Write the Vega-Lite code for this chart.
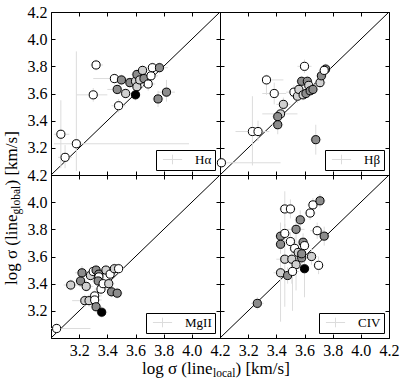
{
"$schema":"https://vega.github.io/schema/vega-lite/v6.json",
"padding":{"left":1,"top":3,"right":5,"bottom":5},
"datasets":{
"diag":[{"x":3.0,"y":3.0},{"x":4.2,"y":4.2}],
"pts":[
{"line":"Hα","x":3.32,"y":3.81,"x0":3.28,"x1":3.37,"y0":3.77,"y1":3.85,"c":"w"},
{"line":"Hα","x":3.30,"y":3.59,"x0":3.18,"x1":3.40,"y0":3.54,"y1":3.64,"c":"w"},
{"line":"Hα","x":3.07,"y":3.30,"x0":3.02,"x1":3.13,"y0":3.05,"y1":3.55,"c":"w"},
{"line":"Hα","x":3.10,"y":3.13,"x0":3.05,"x1":3.15,"y0":3.05,"y1":3.22,"c":"w"},
{"line":"Hα","x":3.18,"y":3.23,"x0":3.02,"x1":3.98,"y0":3.03,"y1":3.91,"c":"w"},
{"line":"Hα","x":3.48,"y":3.51,"x0":3.43,"x1":3.53,"y0":3.46,"y1":3.56,"c":"w"},
{"line":"Hα","x":3.45,"y":3.71,"x0":3.30,"x1":3.62,"y0":3.67,"y1":3.75,"c":"w"},
{"line":"Hα","x":3.50,"y":3.70,"x0":3.45,"x1":3.55,"y0":3.66,"y1":3.74,"c":"m"},
{"line":"Hα","x":3.47,"y":3.63,"x0":3.40,"x1":3.55,"y0":3.59,"y1":3.67,"c":"m"},
{"line":"Hα","x":3.53,"y":3.60,"x0":3.48,"x1":3.58,"y0":3.56,"y1":3.64,"c":"l"},
{"line":"Hα","x":3.56,"y":3.68,"x0":3.52,"x1":3.60,"y0":3.64,"y1":3.72,"c":"m"},
{"line":"Hα","x":3.60,"y":3.69,"x0":3.56,"x1":3.65,"y0":3.65,"y1":3.73,"c":"l"},
{"line":"Hα","x":3.61,"y":3.74,"x0":3.57,"x1":3.66,"y0":3.70,"y1":3.78,"c":"m"},
{"line":"Hα","x":3.61,"y":3.65,"x0":3.57,"x1":3.66,"y0":3.61,"y1":3.69,"c":"l"},
{"line":"Hα","x":3.63,"y":3.70,"x0":3.58,"x1":3.68,"y0":3.66,"y1":3.74,"c":"l"},
{"line":"Hα","x":3.65,"y":3.77,"x0":3.61,"x1":3.70,"y0":3.73,"y1":3.81,"c":"l"},
{"line":"Hα","x":3.66,"y":3.71,"x0":3.62,"x1":3.70,"y0":3.67,"y1":3.75,"c":"m"},
{"line":"Hα","x":3.69,"y":3.67,"x0":3.64,"x1":3.74,"y0":3.62,"y1":3.72,"c":"w"},
{"line":"Hα","x":3.71,"y":3.73,"x0":3.66,"x1":3.76,"y0":3.69,"y1":3.77,"c":"w"},
{"line":"Hα","x":3.72,"y":3.79,"x0":3.66,"x1":3.78,"y0":3.75,"y1":3.83,"c":"w"},
{"line":"Hα","x":3.77,"y":3.79,"x0":3.72,"x1":3.83,"y0":3.75,"y1":3.83,"c":"m"},
{"line":"Hα","x":3.76,"y":3.56,"x0":3.72,"x1":3.80,"y0":3.50,"y1":3.62,"c":"m"},
{"line":"Hα","x":3.82,"y":3.61,"x0":3.76,"x1":3.88,"y0":3.54,"y1":3.70,"c":"m"},
{"line":"Hα","x":3.60,"y":3.59,"x0":3.56,"x1":3.64,"y0":3.55,"y1":3.63,"c":"k"},
{"line":"Hβ","x":3.01,"y":3.09,"x0":3.0,"x1":3.43,"y0":3.05,"y1":3.13,"c":"w"},
{"line":"Hβ","x":3.23,"y":3.32,"x0":3.11,"x1":3.35,"y0":3.07,"y1":3.58,"c":"w"},
{"line":"Hβ","x":3.27,"y":3.32,"x0":3.20,"x1":3.34,"y0":3.25,"y1":3.40,"c":"w"},
{"line":"Hβ","x":3.33,"y":3.70,"x0":3.30,"x1":3.45,"y0":3.59,"y1":3.74,"c":"w"},
{"line":"Hβ","x":3.385,"y":3.60,"x0":3.30,"x1":3.47,"y0":3.52,"y1":3.68,"c":"w"},
{"line":"Hβ","x":3.45,"y":3.52,"x0":3.40,"x1":3.50,"y0":3.47,"y1":3.57,"c":"l"},
{"line":"Hβ","x":3.43,"y":3.45,"x0":3.30,"x1":3.55,"y0":3.40,"y1":3.50,"c":"l"},
{"line":"Hβ","x":3.41,"y":3.43,"x0":3.37,"x1":3.45,"y0":3.38,"y1":3.48,"c":"m"},
{"line":"Hβ","x":3.41,"y":3.37,"x0":3.37,"x1":3.45,"y0":3.30,"y1":3.44,"c":"m"},
{"line":"Hβ","x":3.60,"y":3.80,"x0":3.55,"x1":3.65,"y0":3.75,"y1":3.85,"c":"w"},
{"line":"Hβ","x":3.525,"y":3.61,"x0":3.47,"x1":3.58,"y0":3.56,"y1":3.66,"c":"w"},
{"line":"Hβ","x":3.55,"y":3.58,"x0":3.50,"x1":3.60,"y0":3.53,"y1":3.63,"c":"l"},
{"line":"Hβ","x":3.56,"y":3.63,"x0":3.50,"x1":3.62,"y0":3.58,"y1":3.68,"c":"l"},
{"line":"Hβ","x":3.58,"y":3.69,"x0":3.54,"x1":3.62,"y0":3.65,"y1":3.73,"c":"m"},
{"line":"Hβ","x":3.62,"y":3.69,"x0":3.58,"x1":3.66,"y0":3.65,"y1":3.73,"c":"m"},
{"line":"Hβ","x":3.63,"y":3.66,"x0":3.59,"x1":3.67,"y0":3.62,"y1":3.70,"c":"l"},
{"line":"Hβ","x":3.59,"y":3.59,"x0":3.55,"x1":3.63,"y0":3.55,"y1":3.63,"c":"l"},
{"line":"Hβ","x":3.61,"y":3.60,"x0":3.57,"x1":3.65,"y0":3.56,"y1":3.64,"c":"m"},
{"line":"Hβ","x":3.64,"y":3.62,"x0":3.60,"x1":3.68,"y0":3.58,"y1":3.66,"c":"m"},
{"line":"Hβ","x":3.66,"y":3.63,"x0":3.62,"x1":3.70,"y0":3.59,"y1":3.67,"c":"m"},
{"line":"Hβ","x":3.71,"y":3.68,"x0":3.67,"x1":3.75,"y0":3.64,"y1":3.72,"c":"l"},
{"line":"Hβ","x":3.72,"y":3.73,"x0":3.68,"x1":3.76,"y0":3.69,"y1":3.77,"c":"m"},
{"line":"Hβ","x":3.75,"y":3.78,"x0":3.71,"x1":3.79,"y0":3.74,"y1":3.82,"c":"m"},
{"line":"Hβ","x":3.74,"y":3.77,"x0":3.70,"x1":3.78,"y0":3.73,"y1":3.81,"c":"w"},
{"line":"Hβ","x":3.68,"y":3.26,"x0":3.64,"x1":3.72,"y0":3.15,"y1":3.37,"c":"m"},
{"line":"MgII","x":3.04,"y":3.07,"x0":3.0,"x1":3.28,"y0":3.03,"y1":3.11,"c":"w"},
{"line":"MgII","x":3.14,"y":3.39,"x0":3.09,"x1":3.24,"y0":3.35,"y1":3.43,"c":"l"},
{"line":"MgII","x":3.21,"y":3.42,"x0":3.17,"x1":3.25,"y0":3.38,"y1":3.46,"c":"m"},
{"line":"MgII","x":3.22,"y":3.48,"x0":3.17,"x1":3.27,"y0":3.44,"y1":3.53,"c":"m"},
{"line":"MgII","x":3.25,"y":3.38,"x0":3.20,"x1":3.30,"y0":3.34,"y1":3.42,"c":"l"},
{"line":"MgII","x":3.24,"y":3.275,"x0":3.15,"x1":3.30,"y0":3.23,"y1":3.32,"c":"l"},
{"line":"MgII","x":3.27,"y":3.275,"x0":3.22,"x1":3.32,"y0":3.23,"y1":3.32,"c":"l"},
{"line":"MgII","x":3.28,"y":3.46,"x0":3.23,"x1":3.33,"y0":3.42,"y1":3.50,"c":"l"},
{"line":"MgII","x":3.30,"y":3.49,"x0":3.25,"x1":3.35,"y0":3.45,"y1":3.53,"c":"w"},
{"line":"MgII","x":3.31,"y":3.31,"x0":3.26,"x1":3.36,"y0":3.27,"y1":3.35,"c":"w"},
{"line":"MgII","x":3.31,"y":3.28,"x0":3.26,"x1":3.36,"y0":3.24,"y1":3.32,"c":"w"},
{"line":"MgII","x":3.32,"y":3.50,"x0":3.28,"x1":3.36,"y0":3.46,"y1":3.54,"c":"m"},
{"line":"MgII","x":3.34,"y":3.47,"x0":3.30,"x1":3.38,"y0":3.43,"y1":3.51,"c":"m"},
{"line":"MgII","x":3.34,"y":3.45,"x0":3.30,"x1":3.38,"y0":3.41,"y1":3.49,"c":"w"},
{"line":"MgII","x":3.335,"y":3.42,"x0":3.29,"x1":3.38,"y0":3.38,"y1":3.46,"c":"m"},
{"line":"MgII","x":3.355,"y":3.36,"x0":3.31,"x1":3.40,"y0":3.32,"y1":3.40,"c":"w"},
{"line":"MgII","x":3.37,"y":3.40,"x0":3.32,"x1":3.42,"y0":3.36,"y1":3.44,"c":"w"},
{"line":"MgII","x":3.39,"y":3.50,"x0":3.35,"x1":3.43,"y0":3.46,"y1":3.54,"c":"l"},
{"line":"MgII","x":3.41,"y":3.40,"x0":3.37,"x1":3.45,"y0":3.36,"y1":3.44,"c":"l"},
{"line":"MgII","x":3.42,"y":3.47,"x0":3.38,"x1":3.46,"y0":3.43,"y1":3.51,"c":"w"},
{"line":"MgII","x":3.45,"y":3.51,"x0":3.41,"x1":3.49,"y0":3.47,"y1":3.55,"c":"l"},
{"line":"MgII","x":3.48,"y":3.51,"x0":3.44,"x1":3.52,"y0":3.47,"y1":3.55,"c":"w"},
{"line":"MgII","x":3.43,"y":3.34,"x0":3.39,"x1":3.47,"y0":3.30,"y1":3.38,"c":"m"},
{"line":"MgII","x":3.47,"y":3.33,"x0":3.43,"x1":3.51,"y0":3.29,"y1":3.37,"c":"m"},
{"line":"MgII","x":3.32,"y":3.23,"x0":3.28,"x1":3.36,"y0":3.19,"y1":3.27,"c":"m"},
{"line":"MgII","x":3.36,"y":3.19,"x0":3.32,"x1":3.40,"y0":3.15,"y1":3.23,"c":"k"},
{"line":"CIV","x":3.265,"y":3.255,"x0":3.22,"x1":3.31,"y0":3.21,"y1":3.30,"c":"m"},
{"line":"CIV","x":3.46,"y":3.95,"x0":3.42,"x1":3.50,"y0":3.82,"y1":4.08,"c":"w"},
{"line":"CIV","x":3.50,"y":3.95,"x0":3.46,"x1":3.54,"y0":3.88,"y1":4.02,"c":"w"},
{"line":"CIV","x":3.66,"y":3.98,"x0":3.62,"x1":3.70,"y0":3.93,"y1":4.03,"c":"w"},
{"line":"CIV","x":3.64,"y":3.92,"x0":3.60,"x1":3.68,"y0":3.87,"y1":3.97,"c":"w"},
{"line":"CIV","x":3.71,"y":4.01,"x0":3.67,"x1":3.75,"y0":3.96,"y1":4.06,"c":"m"},
{"line":"CIV","x":3.57,"y":3.87,"x0":3.53,"x1":3.61,"y0":3.80,"y1":3.94,"c":"m"},
{"line":"CIV","x":3.54,"y":3.80,"x0":3.48,"x1":3.60,"y0":3.70,"y1":3.90,"c":"m"},
{"line":"CIV","x":3.43,"y":3.75,"x0":3.39,"x1":3.47,"y0":3.65,"y1":3.85,"c":"m"},
{"line":"CIV","x":3.46,"y":3.77,"x0":3.42,"x1":3.50,"y0":3.70,"y1":3.84,"c":"w"},
{"line":"CIV","x":3.43,"y":3.69,"x0":3.39,"x1":3.47,"y0":3.62,"y1":3.76,"c":"m"},
{"line":"CIV","x":3.50,"y":3.71,"x0":3.46,"x1":3.54,"y0":3.64,"y1":3.78,"c":"w"},
{"line":"CIV","x":3.53,"y":3.66,"x0":3.49,"x1":3.57,"y0":3.58,"y1":3.74,"c":"w"},
{"line":"CIV","x":3.59,"y":3.705,"x0":3.55,"x1":3.63,"y0":3.64,"y1":3.77,"c":"m"},
{"line":"CIV","x":3.60,"y":3.68,"x0":3.56,"x1":3.64,"y0":3.62,"y1":3.74,"c":"w"},
{"line":"CIV","x":3.69,"y":3.79,"x0":3.64,"x1":3.74,"y0":3.73,"y1":3.85,"c":"w"},
{"line":"CIV","x":3.74,"y":3.75,"x0":3.70,"x1":3.78,"y0":3.68,"y1":3.82,"c":"m"},
{"line":"CIV","x":3.46,"y":3.58,"x0":3.40,"x1":3.52,"y0":3.23,"y1":3.76,"c":"l"},
{"line":"CIV","x":3.51,"y":3.58,"x0":3.47,"x1":3.55,"y0":3.40,"y1":3.70,"c":"l"},
{"line":"CIV","x":3.555,"y":3.63,"x0":3.51,"x1":3.60,"y0":3.55,"y1":3.71,"c":"l"},
{"line":"CIV","x":3.58,"y":3.59,"x0":3.54,"x1":3.62,"y0":3.52,"y1":3.66,"c":"m"},
{"line":"CIV","x":3.58,"y":3.62,"x0":3.54,"x1":3.62,"y0":3.55,"y1":3.69,"c":"m"},
{"line":"CIV","x":3.65,"y":3.60,"x0":3.61,"x1":3.69,"y0":3.54,"y1":3.66,"c":"l"},
{"line":"CIV","x":3.54,"y":3.54,"x0":3.50,"x1":3.58,"y0":3.35,"y1":3.70,"c":"l"},
{"line":"CIV","x":3.70,"y":3.535,"x0":3.66,"x1":3.74,"y0":3.47,"y1":3.60,"c":"w"},
{"line":"CIV","x":3.43,"y":3.48,"x0":3.38,"x1":3.48,"y0":3.12,"y1":3.60,"c":"l"},
{"line":"CIV","x":3.48,"y":3.46,"x0":3.44,"x1":3.52,"y0":3.40,"y1":3.52,"c":"m"},
{"line":"CIV","x":3.515,"y":3.49,"x0":3.47,"x1":3.56,"y0":3.20,"y1":3.60,"c":"w"},
{"line":"CIV","x":3.60,"y":3.51,"x0":3.56,"x1":3.64,"y0":3.30,"y1":3.62,"c":"k"}
]},
"columns":2,
"spacing":0,
"bounds":"flush",
"resolve":{"scale":{"stroke":"independent"},"legend":{"stroke":"independent"}},
"concat":[
{"width":169,"height":163,
 "layer":[
  {"data":{"name":"diag"},"mark":{"type":"line","color":"black","strokeWidth":1,"clip":true},
   "encoding":{"x":{"field":"x","type":"quantitative","scale":{"domain":[3,4.2],"nice":false,"zero":false},"axis":{"orient":"top","values":[3,3.2,3.4,3.6,3.8,4,4.2],"labels":false,"title":null}},
               "y":{"field":"y","type":"quantitative","scale":{"domain":[3,4.2],"nice":false,"zero":false},"axis":{"orient":"right","values":[3,3.2,3.4,3.6,3.8,4,4.2],"labels":false,"title":null}}}},
  {"data":{"name":"pts"},"transform":[{"filter":"datum.line==='Hα'"}],"mark":{"type":"rule","strokeWidth":1},
   "encoding":{"x":{"field":"x0","type":"quantitative","axis":null},"x2":{"field":"x1"},"y":{"field":"y","type":"quantitative","axis":null},
               "stroke":{"field":"line","type":"nominal","scale":{"range":["#dcdcdc"]},"legend":{"title":null}}}},
  {"data":{"name":"pts"},"transform":[{"filter":"datum.line==='Hα'"}],"mark":{"type":"rule","strokeWidth":1},
   "encoding":{"x":{"field":"x","type":"quantitative","axis":null},"y":{"field":"y0","type":"quantitative","axis":null},"y2":{"field":"y1"},
               "stroke":{"field":"line","type":"nominal","scale":{"range":["#dcdcdc"]},"legend":{"title":null}}}},
  {"data":{"name":"pts"},"transform":[{"filter":"datum.line==='Hα'"}],"mark":{"type":"circle","size":66,"stroke":"black","strokeWidth":1,"opacity":1},
   "encoding":{"x":{"field":"x","type":"quantitative","axis":{"orient":"bottom","values":[3,3.2,3.4,3.6,3.8,4,4.2],"labels":false,"title":null}},
               "y":{"field":"y","type":"quantitative","axis":{"orient":"left","values":[3,3.2,3.4,3.6,3.8,4,4.2],"title":") [km/s]","titleAlign":"left","titleAngle":270,"titleBaseline":"alphabetic","titleX":-35,"titleY":173}},
               "fill":{"field":"c","type":"nominal","scale":{"domain":["w","l","m","k"],"range":["#ffffff","#d0d0d0","#8c8c8c","#000000"]},"legend":null}}}
 ],
 "resolve":{"axis":{"x":"independent","y":"independent"}}},
{"width":169,"height":163,
 "layer":[
  {"data":{"name":"diag"},"mark":{"type":"line","color":"black","strokeWidth":1,"clip":true},
   "encoding":{"x":{"field":"x","type":"quantitative","scale":{"domain":[3,4.2],"nice":false,"zero":false},"axis":{"orient":"top","values":[3,3.2,3.4,3.6,3.8,4,4.2],"labels":false,"title":null}},
               "y":{"field":"y","type":"quantitative","scale":{"domain":[3,4.2],"nice":false,"zero":false},"axis":{"orient":"right","values":[3,3.2,3.4,3.6,3.8,4,4.2],"labels":false,"title":null}}}},
  {"data":{"name":"pts"},"transform":[{"filter":"datum.line==='Hβ'"}],"mark":{"type":"rule","strokeWidth":1},
   "encoding":{"x":{"field":"x0","type":"quantitative","axis":null},"x2":{"field":"x1"},"y":{"field":"y","type":"quantitative","axis":null},
               "stroke":{"field":"line","type":"nominal","scale":{"range":["#dcdcdc"]},"legend":{"title":null}}}},
  {"data":{"name":"pts"},"transform":[{"filter":"datum.line==='Hβ'"}],"mark":{"type":"rule","strokeWidth":1},
   "encoding":{"x":{"field":"x","type":"quantitative","axis":null},"y":{"field":"y0","type":"quantitative","axis":null},"y2":{"field":"y1"},
               "stroke":{"field":"line","type":"nominal","scale":{"range":["#dcdcdc"]},"legend":{"title":null}}}},
  {"data":{"name":"pts"},"transform":[{"filter":"datum.line==='Hβ'"}],"mark":{"type":"circle","size":66,"stroke":"black","strokeWidth":1,"opacity":1},
   "encoding":{"x":{"field":"x","type":"quantitative","axis":{"orient":"bottom","values":[3,3.2,3.4,3.6,3.8,4,4.2],"labels":false,"title":null}},
               "y":{"field":"y","type":"quantitative","axis":{"orient":"left","values":[3,3.2,3.4,3.6,3.8,4,4.2],"labels":false,"title":null}},
               "fill":{"field":"c","type":"nominal","scale":{"domain":["w","l","m","k"],"range":["#ffffff","#d0d0d0","#8c8c8c","#000000"]},"legend":null}}}
 ],
 "resolve":{"axis":{"x":"independent","y":"independent"}}},
{"width":169,"height":163,
 "layer":[
  {"data":{"name":"diag"},"mark":{"type":"line","color":"black","strokeWidth":1,"clip":true},
   "encoding":{"x":{"field":"x","type":"quantitative","scale":{"domain":[3,4.2],"nice":false,"zero":false},"axis":{"orient":"top","values":[3,3.2,3.4,3.6,3.8,4,4.2],"labels":false,"title":null}},
               "y":{"field":"y","type":"quantitative","scale":{"domain":[3,4.2],"nice":false,"zero":false},"axis":{"orient":"right","values":[3,3.2,3.4,3.6,3.8,4,4.2],"labels":false,"title":null}}}},
  {"data":{"name":"pts"},"transform":[{"filter":"datum.line==='MgII'"}],"mark":{"type":"rule","strokeWidth":1},
   "encoding":{"x":{"field":"x0","type":"quantitative","axis":{"orient":"bottom","labels":false,"ticks":false,"title":"local","titleFontSize":11.5,"titleAlign":"left","titleBaseline":"alphabetic","titleX":161.5,"titleY":38.5}},"x2":{"field":"x1"},
               "y":{"field":"y","type":"quantitative","axis":{"orient":"left","labels":false,"ticks":false,"title":"global","titleFontSize":11.5,"titleAlign":"left","titleAngle":270,"titleBaseline":"alphabetic","titleX":-31.5,"titleY":39}},
               "stroke":{"field":"line","type":"nominal","scale":{"range":["#dcdcdc"]},"legend":{"title":null}}}},
  {"data":{"name":"pts"},"transform":[{"filter":"datum.line==='MgII'"}],"mark":{"type":"rule","strokeWidth":1},
   "encoding":{"x":{"field":"x","type":"quantitative","axis":null},"y":{"field":"y0","type":"quantitative","axis":null},"y2":{"field":"y1"},
               "stroke":{"field":"line","type":"nominal","scale":{"range":["#dcdcdc"]},"legend":{"title":null}}}},
  {"data":{"name":"pts"},"transform":[{"filter":"datum.line==='MgII'"}],"mark":{"type":"circle","size":66,"stroke":"black","strokeWidth":1,"opacity":1},
   "encoding":{"x":{"field":"x","type":"quantitative","axis":{"orient":"bottom","values":[3,3.2,3.4,3.6,3.8,4,4.2],"title":"log σ (line","titleAlign":"right","titleBaseline":"alphabetic","titleX":161,"titleY":35}},
               "y":{"field":"y","type":"quantitative","axis":{"orient":"left","values":[3,3.2,3.4,3.6,3.8,4,4.2],"title":"log σ (line","titleAlign":"right","titleAngle":270,"titleBaseline":"alphabetic","titleX":-35,"titleY":39}},
               "fill":{"field":"c","type":"nominal","scale":{"domain":["w","l","m","k"],"range":["#ffffff","#d0d0d0","#8c8c8c","#000000"]},"legend":null}}}
 ],
 "resolve":{"axis":{"x":"independent","y":"independent"}}},
{"width":169,"height":163,
 "layer":[
  {"data":{"name":"diag"},"mark":{"type":"line","color":"black","strokeWidth":1,"clip":true},
   "encoding":{"x":{"field":"x","type":"quantitative","scale":{"domain":[3,4.2],"nice":false,"zero":false},"axis":{"orient":"top","values":[3,3.2,3.4,3.6,3.8,4,4.2],"labels":false,"title":null}},
               "y":{"field":"y","type":"quantitative","scale":{"domain":[3,4.2],"nice":false,"zero":false},"axis":{"orient":"right","values":[3,3.2,3.4,3.6,3.8,4,4.2],"labels":false,"title":null}}}},
  {"data":{"name":"pts"},"transform":[{"filter":"datum.line==='CIV'"}],"mark":{"type":"rule","strokeWidth":1},
   "encoding":{"x":{"field":"x0","type":"quantitative","axis":null},"x2":{"field":"x1"},"y":{"field":"y","type":"quantitative","axis":null},
               "stroke":{"field":"line","type":"nominal","scale":{"range":["#dcdcdc"]},"legend":{"title":null}}}},
  {"data":{"name":"pts"},"transform":[{"filter":"datum.line==='CIV'"}],"mark":{"type":"rule","strokeWidth":1},
   "encoding":{"x":{"field":"x","type":"quantitative","axis":null},"y":{"field":"y0","type":"quantitative","axis":null},"y2":{"field":"y1"},
               "stroke":{"field":"line","type":"nominal","scale":{"range":["#dcdcdc"]},"legend":{"title":null}}}},
  {"data":{"name":"pts"},"transform":[{"filter":"datum.line==='CIV'"}],"mark":{"type":"circle","size":66,"stroke":"black","strokeWidth":1,"opacity":1},
   "encoding":{"x":{"field":"x","type":"quantitative","axis":{"orient":"bottom","values":[3,3.2,3.4,3.6,3.8,4,4.2],"title":") [km/s]","titleAlign":"left","titleBaseline":"alphabetic","titleX":15,"titleY":35}},
               "y":{"field":"y","type":"quantitative","axis":{"orient":"left","values":[3,3.2,3.4,3.6,3.8,4,4.2],"labels":false,"title":null}},
               "fill":{"field":"c","type":"nominal","scale":{"domain":["w","l","m","k"],"range":["#ffffff","#d0d0d0","#8c8c8c","#000000"]},"legend":null}}}
 ],
 "resolve":{"axis":{"x":"independent","y":"independent"}}}
],
"config":{
 "font":"Liberation Serif",
 "view":{"stroke":"black","strokeWidth":1},
 "axis":{"tickSize":-4,"tickColor":"black","tickWidth":1,"domain":false,"grid":false,"labelFont":"Liberation Serif","labelFontSize":16,"labelColor":"black","labelPadding":8,"labelFlush":false,"labelOverlap":false,"labelExpr":"datum.value < 3.01 ? '' : format(datum.value, '.1f')","titleFont":"Liberation Serif","titleFontSize":17,"titleFontWeight":"normal","titleColor":"black"},
 "legend":{"orient":"bottom-right","offset":5,"padding":3,"strokeColor":"black","fillColor":"white","symbolType":"M-1.6,0L1.6,0M0,-0.8L0,0.8","symbolSize":144,"symbolStrokeWidth":1,"symbolOffset":7,"labelOffset":16,"labelFont":"Liberation Serif","labelFontSize":13,"labelColor":"black"}
}
}
